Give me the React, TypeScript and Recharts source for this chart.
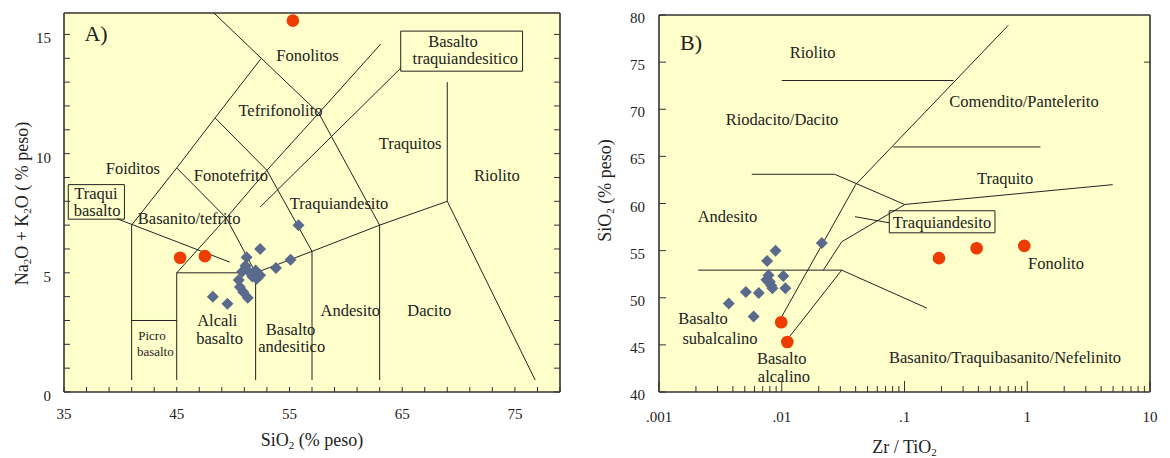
import React from 'react';
import { ScatterChart, Scatter, XAxis, YAxis, CartesianGrid } from 'recharts';

const FONT = '"Liberation Serif", "Times New Roman", serif';
const INK = '#222';
const FRAME = '#333';
const PLOT_BG = '#FFFFCC';
const BLUE = '#5A6A8C';
const RED = '#EE3B00';

// ---------------- Panel A : TAS ----------------
const tasXTicks = [35, 37, 39, 41, 43, 45, 47, 49, 51, 53, 55, 57, 59, 61, 63, 65, 67, 69, 71, 73, 75, 77, 79];
const tasXMajor = [35, 45, 55, 65, 75];
const tasXLabels = ['35', '45', '55', '65', '75'];
const tasYTicks = [0, 1, 2, 3, 4, 5, 6, 7, 8, 9, 10, 11, 12, 13, 14, 15];
const tasYMajor = [0, 5, 10, 15];
const tasYLabels = ['0', '5', '10', '15'];

const tasBlue = [
  { x: 55.8, y: 7.0 }, { x: 52.4, y: 6.0 }, { x: 55.1, y: 5.55 }, { x: 53.8, y: 5.2 },
  { x: 51.2, y: 5.65 }, { x: 51.1, y: 5.3 }, { x: 52.0, y: 5.1 }, { x: 52.4, y: 4.9 },
  { x: 51.7, y: 4.85 }, { x: 50.8, y: 5.05 }, { x: 51.5, y: 5.0 }, { x: 50.5, y: 4.7 },
  { x: 50.6, y: 4.4 }, { x: 50.9, y: 4.2 }, { x: 51.3, y: 3.95 }, { x: 48.2, y: 4.0 },
  { x: 49.5, y: 3.7 }, { x: 52.1, y: 4.75 },
];
const tasRed = [{ x: 55.3, y: 15.58 }, { x: 45.3, y: 5.63 }, { x: 47.5, y: 5.7 }];

const tasBoundaries = [
  [{ x: 41, y: 0.5 }, { x: 41, y: 7 }],
  [{ x: 41, y: 3 }, { x: 45, y: 3 }],
  [{ x: 45, y: 0.5 }, { x: 45, y: 5 }, { x: 52, y: 5 }, { x: 52, y: 0.5 }],
  [{ x: 52, y: 5 }, { x: 57, y: 5.9 }, { x: 63, y: 7 }, { x: 69, y: 8 }, { x: 76.8, y: 0.5 }],
  [{ x: 57, y: 0.5 }, { x: 57, y: 5.9 }],
  [{ x: 63, y: 0.5 }, { x: 63, y: 7 }],
  [{ x: 69, y: 8 }, { x: 69, y: 13 }],
  [{ x: 45, y: 5 }, { x: 49.4, y: 7.3 }, { x: 53, y: 9.3 }, { x: 57.6, y: 11.7 }, { x: 63.1, y: 14.6 }],
  [{ x: 52, y: 5 }, { x: 49.4, y: 7.3 }, { x: 45, y: 9.4 }],
  [{ x: 57, y: 5.9 }, { x: 53, y: 9.3 }, { x: 48.4, y: 11.5 }],
  [{ x: 63, y: 7 }, { x: 57.6, y: 11.7 }, { x: 52.5, y: 14 }],
  [{ x: 41, y: 7 }, { x: 45, y: 9.4 }, { x: 48.4, y: 11.5 }, { x: 52.5, y: 14 }, { x: 48.3, y: 15.9 }],
  [{ x: 39.7, y: 7.27 }, { x: 49.7, y: 5.45 }],
  [{ x: 64.9, y: 13.6 }, { x: 52.4, y: 7.76 }],
];
const tasBoxes = [
  [{ x: 64.87, y: 13.46 }, { x: 75.68, y: 13.46 }, { x: 75.68, y: 15.14 }, { x: 64.87, y: 15.14 }, { x: 64.87, y: 13.46 }],
  [{ x: 35.38, y: 7.25 }, { x: 40.36, y: 7.25 }, { x: 40.36, y: 8.7 }, { x: 35.38, y: 8.7 }, { x: 35.38, y: 7.25 }],
];
const tasLabels = [
  { x: 56.6, y: 14.12, text: 'Fonolitos' },
  { x: 69.5, y: 14.72, text: 'Basalto' },
  { x: 70.6, y: 13.98, text: 'traquiandesitico' },
  { x: 54.2, y: 11.81, text: 'Tefrifonolito' },
  { x: 65.7, y: 10.42, text: 'Traquitos' },
  { x: 73.4, y: 9.09, text: 'Riolito' },
  { x: 41.1, y: 9.37, text: 'Foiditos' },
  { x: 49.8, y: 9.09, text: 'Fonotefrito' },
  { x: 37.84, y: 8.34, text: 'Traqui' },
  { x: 37.93, y: 7.62, text: 'basalto' },
  { x: 46.1, y: 7.28, text: 'Basanito/tefrito' },
  { x: 59.4, y: 7.91, text: 'Traquiandesito' },
  { x: 60.4, y: 3.44, text: 'Andesito' },
  { x: 67.4, y: 3.44, text: 'Dacito' },
  { x: 48.6, y: 3.02, text: 'Alcali' },
  { x: 48.8, y: 2.25, text: 'basalto' },
  { x: 55.1, y: 2.63, text: 'Basalto' },
  { x: 55.2, y: 1.9, text: 'andesitico' },
];
const tasSmallLabels = [
  { x: 42.8, y: 2.36, text: 'Picro' },
  { x: 43.1, y: 1.7, text: 'basalto' },
];
const tasTitle = [{ x: 37.84, y: 15.04, text: 'A)' }];

// ---------------- Panel B : Zr/TiO2 vs SiO2 ----------------
const wfXTicks = [
  0.001, 0.002, 0.003, 0.004, 0.005, 0.006, 0.007, 0.008, 0.009,
  0.01, 0.02, 0.03, 0.04, 0.05, 0.06, 0.07, 0.08, 0.09,
  0.1, 0.2, 0.3, 0.4, 0.5, 0.6, 0.7, 0.8, 0.9,
  1, 2, 3, 4, 5, 6, 7, 8, 9, 10,
];
const wfXMajor = [0.001, 0.01, 0.1, 1, 10];
const wfXLabels = ['.001', '.01', '.1', '1', '10'];
const wfYTicks = [40, 45, 50, 55, 60, 65, 70, 75, 80];
const wfYLabels = ['40', '45', '50', '55', '60', '65', '70', '75', '80'];
const wfYRightTicks = [75];

const wfBlue = [
  { x: 0.0212, y: 55.8 }, { x: 0.0089, y: 55.0 }, { x: 0.0076, y: 53.9 }, { x: 0.0078, y: 52.4 },
  { x: 0.0103, y: 52.3 }, { x: 0.008, y: 51.7 }, { x: 0.0075, y: 51.9 }, { x: 0.0084, y: 51.0 },
  { x: 0.0107, y: 51.0 }, { x: 0.0082, y: 51.3 }, { x: 0.0065, y: 50.5 }, { x: 0.0051, y: 50.6 },
  { x: 0.0037, y: 49.4 }, { x: 0.0059, y: 48.0 },
];
const wfRed = [
  { x: 0.0099, y: 47.4 }, { x: 0.0111, y: 45.3 }, { x: 0.191, y: 54.2 },
  { x: 0.387, y: 55.25 }, { x: 0.946, y: 55.5 },
];

const wfBoundaries = [
  [{ x: 0.01, y: 73.05 }, { x: 0.25, y: 73.05 }],
  [{ x: 0.0057, y: 63.1 }, { x: 0.027, y: 63.1 }, { x: 0.1, y: 59.9 }],
  [{ x: 0.01, y: 48.0 }, { x: 0.04, y: 62.0 }, { x: 0.7, y: 78.9 }],
  [{ x: 0.081, y: 66.0 }, { x: 1.28, y: 66.0 }],
  [{ x: 0.0218, y: 52.93 }, { x: 0.0308, y: 55.94 }, { x: 0.101, y: 59.9 }, { x: 4.97, y: 62.0 }],
  [{ x: 0.00209, y: 52.93 }, { x: 0.0308, y: 52.93 }, { x: 0.152, y: 48.9 }],
  [{ x: 0.0308, y: 52.93 }, { x: 0.0113, y: 45.7 }],
  [{ x: 0.0395, y: 58.6 }, { x: 0.0752, y: 57.95 }],
];
const wfBoxes = [
  [{ x: 0.07516, y: 56.89 }, { x: 0.5458, y: 56.89 }, { x: 0.5458, y: 59.23 }, { x: 0.07516, y: 59.23 }, { x: 0.07516, y: 56.89 }],
];
const wfLabels = [
  { x: 0.01787, y: 76.0, text: 'Riolito' },
  { x: 0.01005, y: 68.95, text: 'Riodacito/Dacito' },
  { x: 0.941, y: 70.78, text: 'Comendito/Pantelerito' },
  { x: 0.659, y: 62.66, text: 'Traquito' },
  { x: 0.003614, y: 58.66, text: 'Andesito' },
  { x: 0.2021, y: 58.03, text: 'Traquiandesito' },
  { x: 0.002283, y: 47.82, text: 'Basalto' },
  { x: 0.00314, y: 45.7, text: 'subalcalino' },
  { x: 0.01, y: 43.58, text: 'Basalto' },
  { x: 0.01042, y: 41.63, text: 'alcalino' },
  { x: 1.714, y: 53.65, text: 'Fonolito' },
  { x: 0.659, y: 43.69, text: 'Basanito/Traquibasanito/Nefelinito' },
];
const wfTitle = [{ x: 0.001823, y: 77.1, text: 'B)' }];

// ---------------- helpers ----------------
const Empty = () => <g />;

const Diamond = (p: any) => {
  const { cx, cy } = p;
  const r = 6;
  return <polygon points={`${cx},${cy - r} ${cx + r},${cy} ${cx},${cy + r} ${cx - r},${cy}`} fill={BLUE} />;
};
const Dot = (p: any) => <circle cx={p.cx} cy={p.cy} r={6.3} fill={RED} />;

const makeText = (size: number) => (p: any) => {
  const d = p.payload || p;
  return (
    <text x={p.cx} y={p.cy} textAnchor="middle" dominantBaseline="central" fontFamily={FONT} fontSize={size} fill={INK}>
      {d.text}
    </text>
  );
};
const LabelText = makeText(16.5);
const SmallText = makeText(13);
const TitleText = makeText(22);

const isIn = (list: number[], v: number) =>
  list.findIndex((m) => Math.abs(m - v) <= Math.abs(m) * 1e-6 + 1e-9);

function makeTick(side: string, majors: number[], labels: string[] | null, majorLen: number, minorLen: number, gap: number, dy: number) {
  return (props: any) => {
    const { x, y, payload } = props;
    const v = Number(payload && payload.value);
    const idx = isIn(majors, v);
    const len = idx >= 0 ? majorLen : minorLen;
    let line = null;
    let label = null;
    if (side === 'bottom') line = <line x1={x} y1={y} x2={x} y2={y - len} stroke={FRAME} strokeWidth={1} />;
    if (side === 'top') line = <line x1={x} y1={y} x2={x} y2={y + len} stroke={FRAME} strokeWidth={1} />;
    if (side === 'left') line = <line x1={x} y1={y} x2={x + len} y2={y} stroke={FRAME} strokeWidth={1} />;
    if (side === 'right') line = <line x1={x} y1={y} x2={x - len} y2={y} stroke={FRAME} strokeWidth={1} />;
    if (labels && idx >= 0) {
      if (side === 'bottom')
        label = (
          <text x={x} y={y + gap} textAnchor="middle" dominantBaseline="central" fontFamily={FONT} fontSize={15} fill={INK}>
            {labels[idx]}
          </text>
        );
      if (side === 'left')
        label = (
          <text x={x - gap} y={y + dy} textAnchor="end" dominantBaseline="central" fontFamily={FONT} fontSize={15} fill={INK}>
            {labels[idx]}
          </text>
        );
    }
    return (
      <g>
        {line}
        {label}
      </g>
    );
  };
}

type Part = [string, boolean];
const renderTitle = (parts: Part[], cx: number, cy: number, rotate: boolean) => (
  <text
    x={cx}
    y={cy}
    textAnchor="middle"
    dominantBaseline="central"
    fontFamily={FONT}
    fontSize={18}
    fill={INK}
    transform={rotate ? `rotate(-90 ${cx} ${cy})` : undefined}
  >
    {parts.map(([s, sub], i) => (
      <tspan key={i} fontSize={sub ? 11 : 18} dy={sub ? 5 : i > 0 && parts[i - 1][1] ? -5 : 0}>
        {s}
      </tspan>
    ))}
  </text>
);

const tasYTitle: Part[] = [['Na', false], ['2', true], ['O + K', false], ['2', true], ['O  ( % peso)', false]];
const tasXTitle: Part[] = [['SiO', false], ['2', true], ['  (% peso)', false]];
const wfYTitle: Part[] = [['SiO', false], ['2', true], ['  (% peso)', false]];
const wfXTitle: Part[] = [['Zr / TiO', false], ['2', true]];

const lineStyle = { stroke: INK, strokeWidth: 1 };
const axisLineStyle = { stroke: FRAME, strokeWidth: 1.6 };

function PanelA() {
  return (
    <ScatterChart width={580} height={458} margin={{ top: 0, right: 0, bottom: 36, left: 4 }}>
      <CartesianGrid horizontal={false} vertical={false} fill={PLOT_BG} fillOpacity={1} />
      <XAxis
        type="number" dataKey="x" domain={[35, 79]} allowDataOverflow ticks={tasXTicks} interval={0}
        height={30} tickSize={0} tickMargin={0} tickLine={false} axisLine={axisLineStyle}
        tick={makeTick('bottom', tasXMajor, tasXLabels, 5, 5, 22, 0)}
        label={{ content: (p: any) => renderTitle(tasXTitle, p.viewBox.x + p.viewBox.width / 2, p.viewBox.y + 48, false) }}
      />
      <XAxis
        xAxisId="top" orientation="top" type="number" domain={[35, 79]} allowDataOverflow ticks={tasXTicks} interval={0}
        height={13} tickSize={0} tickMargin={0} tickLine={false} axisLine={axisLineStyle}
        tick={makeTick('top', tasXMajor, null, 5, 5, 0, 0)}
      />
      <YAxis
        type="number" dataKey="y" domain={[0, 15.9]} allowDataOverflow ticks={tasYTicks} interval={0}
        width={60} tickSize={0} tickMargin={0} tickLine={false} axisLine={axisLineStyle}
        tick={makeTick('left', tasYMajor, tasYLabels, 6, 6, 13, 4)}
        label={{ content: (p: any) => renderTitle(tasYTitle, p.viewBox.x + 18, p.viewBox.y + p.viewBox.height / 2 + 1, true) }}
      />
      <YAxis
        yAxisId="right" orientation="right" type="number" domain={[0, 15.9]} allowDataOverflow ticks={tasYTicks} interval={0}
        width={20} tickSize={0} tickMargin={0} tickLine={false} axisLine={axisLineStyle}
        tick={makeTick('right', tasYMajor, null, 6, 6, 0, 0)}
      />
      {tasBoundaries.map((seg, i) => (
        <Scatter key={'b' + i} data={seg} line={lineStyle} lineType="joint" shape={Empty} isAnimationActive={false} legendType="none" />
      ))}
      {tasBoxes.map((seg, i) => (
        <Scatter key={'x' + i} data={seg} line={lineStyle} lineType="joint" shape={Empty} isAnimationActive={false} legendType="none" />
      ))}
      <Scatter data={tasLabels} shape={LabelText} isAnimationActive={false} legendType="none" />
      <Scatter data={tasSmallLabels} shape={SmallText} isAnimationActive={false} legendType="none" />
      <Scatter data={tasTitle} shape={TitleText} isAnimationActive={false} legendType="none" />
      <Scatter data={tasBlue} shape={Diamond} isAnimationActive={false} legendType="none" />
      <Scatter data={tasRed} shape={Dot} isAnimationActive={false} legendType="none" />
    </ScatterChart>
  );
}

function PanelB() {
  return (
    <ScatterChart width={590} height={458} margin={{ top: 0, right: 0, bottom: 36, left: 4 }}>
      <CartesianGrid horizontal={false} vertical={false} fill={PLOT_BG} fillOpacity={1} />
      <XAxis
        type="number" dataKey="x" scale="log" domain={[0.001, 10]} allowDataOverflow ticks={wfXTicks} interval={0}
        height={30} tickSize={0} tickMargin={0} tickLine={false} axisLine={axisLineStyle}
        tick={makeTick('bottom', wfXMajor, wfXLabels, 11, 6, 25, 0)}
        label={{ content: (p: any) => renderTitle(wfXTitle, p.viewBox.x + p.viewBox.width / 2, p.viewBox.y + 55, false) }}
      />
      <XAxis
        xAxisId="top" orientation="top" type="number" scale="log" domain={[0.001, 10]} allowDataOverflow ticks={wfXTicks} interval={0}
        height={15} tickSize={0} tickMargin={0} tickLine={false} axisLine={axisLineStyle}
        tick={makeTick('top', wfXMajor, null, 10, 5, 0, 0)}
      />
      <YAxis
        type="number" dataKey="y" domain={[40, 80]} allowDataOverflow ticks={wfYTicks} interval={0}
        width={75} tickSize={0} tickMargin={0} tickLine={false} axisLine={axisLineStyle}
        tick={makeTick('left', wfYTicks, wfYLabels, 7, 7, 14, 3)}
        label={{ content: (p: any) => renderTitle(wfYTitle, p.viewBox.x + 21, p.viewBox.y + p.viewBox.height / 2 - 13, true) }}
      />
      <YAxis
        yAxisId="right" orientation="right" type="number" domain={[40, 80]} allowDataOverflow ticks={wfYRightTicks} interval={0}
        width={20} tickSize={0} tickMargin={0} tickLine={false} axisLine={axisLineStyle}
        tick={makeTick('right', wfYRightTicks, null, 6, 6, 0, 0)}
      />
      {wfBoundaries.map((seg, i) => (
        <Scatter key={'b' + i} data={seg} line={lineStyle} lineType="joint" shape={Empty} isAnimationActive={false} legendType="none" />
      ))}
      {wfBoxes.map((seg, i) => (
        <Scatter key={'x' + i} data={seg} line={lineStyle} lineType="joint" shape={Empty} isAnimationActive={false} legendType="none" />
      ))}
      <Scatter data={wfLabels} shape={LabelText} isAnimationActive={false} legendType="none" />
      <Scatter data={wfTitle} shape={TitleText} isAnimationActive={false} legendType="none" />
      <Scatter data={wfBlue} shape={Diamond} isAnimationActive={false} legendType="none" />
      <Scatter data={wfRed} shape={Dot} isAnimationActive={false} legendType="none" />
    </ScatterChart>
  );
}

export default function App() {
  return (
    <div style={{ position: 'absolute', left: 0, top: 0, width: 1170, height: 458, background: '#fff' }}>
      <div style={{ position: 'absolute', left: 0, top: 0 }}>
        <PanelA />
      </div>
      <div style={{ position: 'absolute', left: 580, top: 0 }}>
        <PanelB />
      </div>
    </div>
  );
}
